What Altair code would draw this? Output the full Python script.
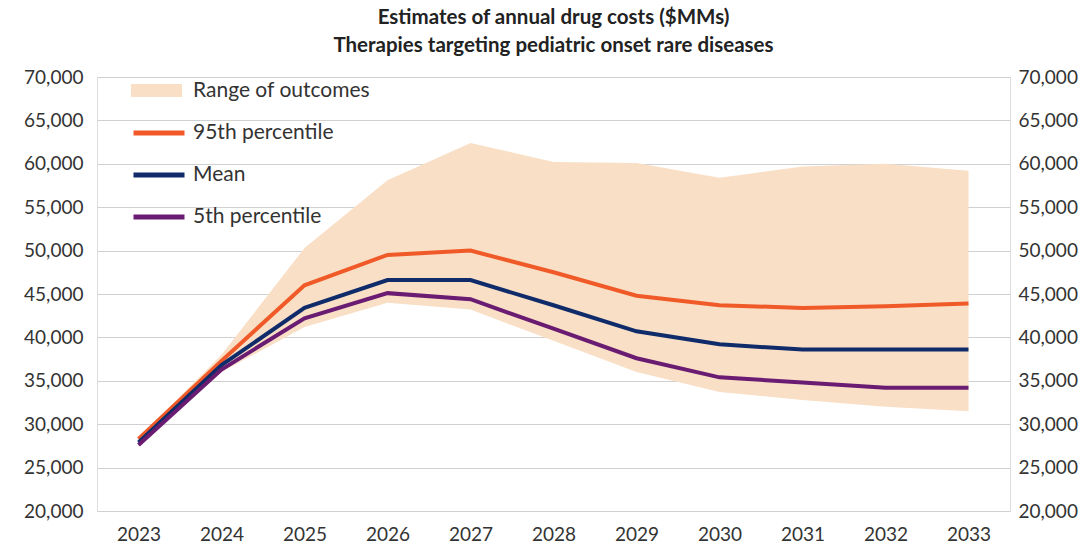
import altair as alt
import pandas as pd

years = list(range(2023, 2034))
p95 = [28300, 37300, 46000, 49500, 50000, 47500, 44800, 43700, 43400, 43600, 43900]
mean = [27900, 36800, 43400, 46600, 46600, 43700, 40700, 39200, 38600, 38600, 38600]
p5 = [27600, 36300, 42200, 45100, 44400, 41000, 37600, 35400, 34800, 34200, 34200]
range_hi = [28400, 38000, 50300, 58100, 62400, 60200, 60100, 58400, 59700, 60000, 59200]
range_lo = [27400, 36000, 41200, 44000, 43200, 39600, 36000, 33700, 32800, 32000, 31500]

line_names = ["95th percentile", "Mean", "5th percentile"]
line_colors = ["#F05A28", "#102B6A", "#6A1B72"]
area_name = "Range of outcomes"
area_color = "#F9DFC6"

FONT = "Lato"
TXT = "#333333"

area_df = pd.DataFrame({"year": years, "lo": range_lo, "hi": range_hi, "series": area_name})
rows = []
for name, vals in zip(line_names, [p95, mean, p5]):
    for y, v in zip(years, vals):
        rows.append({"year": y, "value": v, "series": name})
line_df = pd.DataFrame(rows)

x_enc = alt.X(
    "year:O",
    title=None,
    scale=alt.Scale(type="point", padding=0.5),
    axis=alt.Axis(labelAngle=0, ticks=False, domain=False, labelFontSize=19,
                  labelColor=TXT, labelFont=FONT, labelPadding=14, grid=False),
)
y_scale = alt.Scale(domain=[20000, 70000], nice=False, zero=False)

area = alt.Chart(area_df).mark_area(opacity=1).encode(
    x=x_enc,
    y=alt.Y("lo:Q", title=None, scale=y_scale,
            axis=alt.Axis(values=list(range(20000, 70001, 5000)), format=",d", ticks=False,
                          domain=False, grid=True, gridColor="#D0D0D0", gridWidth=1.2,
                          labelFontSize=19, labelColor=TXT, labelFont=FONT, labelPadding=14)),
    y2="hi:Q",
    fill=alt.Fill("series:N", scale=alt.Scale(domain=[area_name], range=[area_color]),
                  legend=alt.Legend(title=None, orient="none", legendX=34, legendY=-12,
                                    symbolType="M-1,-0.255H1V0.255H-1Z", symbolSize=2601,
                                    symbolStrokeWidth=0, symbolOpacity=1,
                                    labelFontSize=21, labelFont=FONT, labelColor=TXT,
                                    labelOffset=11, labelLimit=400)),
)

lines = alt.Chart(line_df).mark_line(strokeWidth=4, strokeJoin="miter").encode(
    x=x_enc,
    y=alt.Y("value:Q", title=None, scale=y_scale,
            axis=alt.Axis(orient="right", values=list(range(20000, 70001, 5000)), format=",d",
                          ticks=False, domain=False, grid=False,
                          labelFontSize=19, labelColor=TXT, labelFont=FONT, labelPadding=8)),
    stroke=alt.Stroke("series:N", scale=alt.Scale(domain=line_names, range=line_colors),
                      sort=line_names,
                      legend=alt.Legend(title=None, orient="none", legendX=34, legendY=28,
                                        symbolType="stroke", symbolSize=2601,
                                        symbolStrokeWidth=5, rowPadding=4,
                                        labelFontSize=21, labelFont=FONT, labelColor=TXT,
                                        labelOffset=6, labelLimit=400)),
    order=alt.Order("year:O"),
)

chart = alt.layer(area, lines).resolve_axis(y="independent").properties(
    width=913,
    height=434,
    autosize=alt.AutoSizeParams(type="none"),
    padding={"left": 97, "top": 77, "right": 81, "bottom": 34},
    title=alt.Title(
        ["Estimates of annual drug costs ($MMs)", "Therapies targeting pediatric onset rare diseases"],
        fontSize=20.5, fontWeight="bold", font=FONT, color="#222222", lineHeight=28,
        anchor="middle", offset=9,
    ),
).configure_view(stroke=None).configure(background="white")

chart.save("out.html", embed_options={"renderer": "svg", "actions": False})
